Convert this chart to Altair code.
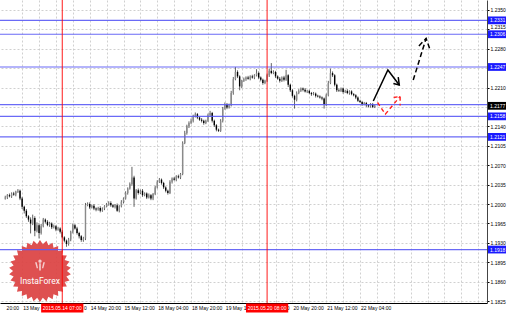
import math
import altair as alt
import pandas as pd

# ---------------- data ----------------
start_index = -8          # first bar = 13 May 04:00 (bar index 0 = 13 May 12:00, H1 bars)
first_open = 1.2010
close = [
    1.2012, 1.2016, 1.2014, 1.2019, 1.2017, 1.2022, 1.2024, 1.2010, 1.1995, 1.1988,
    1.1978, 1.1972, 1.1965, 1.1975, 1.1952, 1.1962, 1.1948, 1.1960, 1.1972, 1.1968,
    1.1962, 1.1965, 1.1958, 1.1960, 1.1954, 1.1956, 1.1950, 1.1940, 1.1934, 1.1928,
    1.1936, 1.1950, 1.1962, 1.1956, 1.1948, 1.1942, 1.1935, 1.1938, 1.1998, 1.2000,
    1.1994, 1.1997, 1.1992, 1.1990, 1.1993, 1.1988, 1.1992, 1.1996, 1.1999, 1.2002,
    1.1998, 1.1995, 1.1998, 1.1988, 1.1996, 1.2004, 1.2010, 1.2020, 1.2028, 1.2036,
    1.2048, 1.2010, 1.2025, 1.2020, 1.2024, 1.2016, 1.2019, 1.2012, 1.2016, 1.2010,
    1.2018, 1.2030, 1.2040, 1.2044, 1.2038, 1.2030, 1.2024, 1.2020, 1.2040, 1.2046,
    1.2044, 1.2050, 1.2048, 1.2054, 1.2110, 1.2128, 1.2140, 1.2146, 1.2150, 1.2158,
    1.2162, 1.2156, 1.2152, 1.2150, 1.2146, 1.2150, 1.2160, 1.2164, 1.2150, 1.2142,
    1.2134, 1.2132, 1.2150, 1.2172, 1.2180, 1.2174, 1.2178, 1.2200, 1.2225, 1.2238,
    1.2230, 1.2212, 1.2222, 1.2225, 1.2228, 1.2226, 1.2230, 1.2228, 1.2232, 1.2236,
    1.2228, 1.2224, 1.2218, 1.2222, 1.2232, 1.2240, 1.2236, 1.2238, 1.2230, 1.2226,
    1.2222, 1.2228, 1.2224, 1.2232, 1.2215, 1.2205, 1.2195, 1.2188, 1.2200, 1.2204,
    1.2208, 1.2206, 1.2203, 1.2204, 1.2200, 1.2198, 1.2199, 1.2195, 1.2194, 1.2192,
    1.2190, 1.2180, 1.2196, 1.2218, 1.2236, 1.2232, 1.2215, 1.2205, 1.2204, 1.2208,
    1.2202, 1.2204, 1.2200, 1.2203, 1.2198, 1.2196, 1.2192, 1.2186, 1.2184, 1.2180,
    1.2182, 1.2178, 1.2176, 1.2180, 1.2175, 1.2177,
]
# upper / lower shadows in pips
wick_hi = [
    3, 2, 3, 2, 3, 2, 3, 2, 3, 2,
    3, 2, 4, 6, 3, 5, 3, 4, 3, 2,
    3, 3, 2, 3, 2, 3, 2, 3, 2, 2,
    3, 2, 3, 2, 3, 2, 2, 3, 4, 3,
    3, 2, 3, 2, 2, 3, 2, 2, 3, 3,
    3, 2, 2, 3, 2, 3, 2, 3, 2, 3,
    19, 3, 2, 3, 2, 3, 2, 2, 3, 2,
    2, 3, 3, 3, 2, 2, 2, 2, 3, 2,
    3, 2, 3, 2, 3, 4, 3, 3, 4, 3,
    3, 2, 2, 3, 2, 2, 3, 4, 2, 2,
    2, 2, 3, 3, 3, 2, 3, 4, 4, 9,
    3, 2, 2, 3, 2, 3, 2, 3, 2, 7,
    3, 2, 2, 2, 3, 4, 14, 3, 2, 2,
    3, 2, 3, 10, 2, 2, 2, 2, 3, 3,
    2, 2, 3, 2, 2, 2, 3, 2, 2, 2,
    2, 2, 3, 4, 8, 3, 2, 2, 3, 2,
    2, 2, 3, 2, 2, 2, 2, 2, 2, 2,
    2, 2, 2, 2, 2, 2,
]
wick_lo = [
    2, 3, 2, 3, 2, 3, 2, 3, 4, 5,
    3, 4, 18, 3, 10, 3, 10, 3, 2, 3,
    2, 3, 3, 2, 3, 2, 3, 2, 3, 5,
    3, 3, 3, 2, 3, 4, 3, 3, 3, 2,
    3, 2, 3, 3, 2, 3, 2, 3, 2, 2,
    3, 2, 3, 2, 3, 2, 3, 2, 3, 2,
    3, 15, 2, 3, 2, 3, 2, 3, 2, 3,
    3, 2, 2, 2, 3, 3, 3, 3, 2, 3,
    2, 3, 2, 3, 2, 2, 3, 3, 2, 3,
    2, 3, 2, 3, 3, 2, 2, 2, 3, 3,
    3, 2, 2, 3, 2, 3, 2, 2, 3, 2,
    3, 7, 3, 2, 3, 2, 3, 2, 3, 2,
    3, 3, 3, 2, 2, 3, 2, 2, 3, 2,
    3, 2, 3, 2, 4, 3, 3, 16, 3, 2,
    2, 3, 2, 3, 2, 3, 2, 3, 2, 2,
    3, 8, 3, 2, 2, 3, 3, 3, 2, 2,
    3, 2, 2, 3, 2, 2, 3, 2, 2, 3,
    2, 3, 2, 2, 2, 2,
]

price_ticks = [1.2350, 1.2315, 1.2280, 1.2245, 1.2210, 1.2175, 1.2140, 1.2105,
               1.2070, 1.2035, 1.2000, 1.1965, 1.1930, 1.1895, 1.1860, 1.1825]
hidden_ticks = [1.2245, 1.2175]   # covered by the level boxes in the picture
raised_ticks = [1.2315]           # sits just above the 1.2306 box
level_prices = [1.2331, 1.2306, 1.2247, 1.2179, 1.2158, 1.2121, 1.1918]
box_prices = [1.2331, 1.2306, 1.2247, 1.2177, 1.2158, 1.2121, 1.1918]
box_labels = ["1.2331", "1.2306", "1.2247", "1.2177", "1.2158", "1.2121", "1.1918"]
box_colors = ["#1a1aff", "#1a1aff", "#1a1aff", "#000000", "#1a1aff", "#1a1aff", "#1a1aff"]

# visible parts of the time labels (the rest is hidden by the red boxes / left edge)
time_idx = [0, 0, 32, 32, 48, 64, 80, 96, 128, 128, 144, 160]
time_labels = ["20:00", "13 May", "0", "14 May 20:00", "15 May 12:00", "18 May 04:00",
               "18 May 20:00", "19 May 1", "0", "20 May 20:00", "21 May 12:00", "22 May 04:00"]
time_align = ["right", "left", "right", "left", "left", "left",
              "left", "left", "right", "left", "left", "left"]
vline_idx = [19, 116]
vline_labels = ["2015.05.14 07:00", "2015.05.20 08:00"]

# hand-drawn forecast arrows (bar index, price)
arrow_black_i = [166.3, 173.2, 178.6]
arrow_black_p = [1.21857, 1.22415, 1.22145]
head_black_i = [175.8, 178.6, 178.1]
head_black_p = [1.22172, 1.22145, 1.22288]
arrow_red_i = [168.3, 172.0, 179.0]
arrow_red_p = [1.21830, 1.21620, 1.21940]
head_red_i = [175.9, 179.0, 179.0]
head_red_p = [1.21920, 1.21940, 1.21775]
arrow_dash_i = [185.2, 191.3]
arrow_dash_p = [1.22235, 1.22986]
head_dash_i = [187.9, 191.3, 193.2]
head_dash_p = [1.22848, 1.22986, 1.22776]

# ---------------- tables ----------------
pip = 0.0001
opens = [first_open] + close[:-1]
idx = list(range(start_index, start_index + len(close)))
candles = pd.DataFrame({
    "i": idx,
    "o": opens,
    "c": close,
    "h": [max(o, c) + w * pip for o, c, w in zip(opens, close, wick_hi)],
    "l": [min(o, c) - w * pip for o, c, w in zip(opens, close, wick_lo)],
})
candles["bull"] = candles["c"] >= candles["o"]

FONT = "Liberation Sans"
xs = alt.Scale(domain=[-8.117, 217.77], nice=False, zero=False)
ys = alt.Scale(domain=[1.18217, 1.23677], nice=False, zero=False)
grid_vals = list(range(0, 217, 8))
hide_expr = " || ".join(f"abs(datum.value - {v}) < 0.00001" for v in hidden_ticks)
raise_expr = " || ".join(f"abs(datum.value - {v}) < 0.00001" for v in raised_ticks)
xaxis = alt.Axis(values=grid_vals, labels=False, ticks=False, grid=True,
                 gridDash=[2, 2], gridColor="#c4c4c4", gridWidth=0.8,
                 domainColor="#000000", domainWidth=1, title=None)
yaxis = alt.Axis(orient="right", values=price_ticks, labelFont=FONT,
                 labelExpr=f"({hide_expr}) ? '' : format(datum.value, '.4f')",
                 labelBaseline={"condition": {"test": raise_expr, "value": "bottom"},
                                "value": "middle"},
                 labelFontSize=5, labelColor="#000000", labelPadding=1, tickSize=2,
                 tickColor="#000000", domainColor="#444444", grid=True,
                 gridDash=[2, 2], gridColor="#c4c4c4", gridWidth=0.8,
                 labelOverlap=False, labelFlush=False, title=None)


def X(f):
    return alt.X(f, type="quantitative", scale=xs, axis=xaxis)


def Y(f):
    return alt.Y(f, type="quantitative", scale=ys, axis=yaxis)


base = alt.Chart(candles)

wicks = base.mark_rule(color="#3a3a3a", strokeWidth=0.8, clip=True).encode(
    x=X("i"), y=Y("l"), y2=alt.Y2("h"))
bodies = base.mark_bar(width=1.4, clip=True).encode(
    x=X("i"), y=Y("o"), y2=alt.Y2("c"),
    color=alt.condition("datum.bull", alt.value("#8a8a8a"), alt.value("#000000")))

levels = alt.Chart(pd.DataFrame({"p": level_prices})).mark_rule(
    color="#5a5af5", strokeWidth=1.2, opacity=0.9).encode(y=Y("p"))

vlines = alt.Chart(pd.DataFrame({"i": vline_idx})).mark_rule(
    color="#ff0000", strokeWidth=0.9).encode(x=X("i"))

# logo
n = 30
pts = []
for k in range(2 * n):
    r = 1.0 if k % 2 == 0 else 0.87
    a = math.pi * k / n
    pts.append(f"{r * math.sin(a):.3f},{-r * math.cos(a):.3f}")
star_path = "M" + " L".join(pts) + " Z"
icon_path = ("M0,-1 A0.3,0.3 0 1,1 0,-0.4 A0.3,0.3 0 1,1 0,-1 Z "
             "M-0.15,-0.3 L0.15,-0.3 L0.15,1 L-0.15,1 Z "
             "M-0.9,-0.5 L-0.6,-0.5 L-0.35,0.6 L-0.6,0.6 Z "
             "M0.9,-0.5 L0.6,-0.5 L0.35,0.6 L0.6,0.6 Z")
one = pd.DataFrame({"a": [0]})
logo = alt.Chart(one).mark_point(shape=star_path, filled=True, color="#dc4343",
                                 size=62 * 62, opacity=0.93, strokeWidth=0).encode(
    x=alt.value(40), y=alt.value(271))
logo_icon = alt.Chart(one).mark_point(shape=icon_path, filled=True, color="#ffffff",
                                      size=11 * 11, strokeWidth=0).encode(
    x=alt.value(40), y=alt.value(265))
logo_text = alt.Chart(pd.DataFrame({"t": ["InstaForex"]})).mark_text(
    font="Roboto", fontSize=8.5, color="#ffffff", align="center", baseline="middle").encode(
    x=alt.value(40), y=alt.value(281), text="t:N")


def poly(ii, pp, seg):
    return pd.DataFrame({"i": ii, "p": pp, "o": list(range(len(ii))), "s": seg})


black_df = pd.concat([poly(arrow_black_i, arrow_black_p, 0), poly(head_black_i, head_black_p, 1)])
red_df = pd.concat([poly(arrow_red_i, arrow_red_p, 0), poly(head_red_i, head_red_p, 1)])
dash_df = pd.concat([poly(arrow_dash_i, arrow_dash_p, 0), poly(head_dash_i, head_dash_p, 1)])

arrow_black = alt.Chart(black_df).mark_line(color="#000000", strokeWidth=1.5).encode(
    x=X("i"), y=Y("p"), detail="s:N", order="o:Q")
arrow_red = alt.Chart(red_df).mark_line(color="#ff2020", strokeWidth=1.4, strokeDash=[4, 3]).encode(
    x=X("i"), y=Y("p"), detail="s:N", order="o:Q")
arrow_dash = alt.Chart(dash_df).mark_line(color="#000000", strokeWidth=1.5, strokeDash=[5, 3]).encode(
    x=X("i"), y=Y("p"), detail="s:N", order="o:Q")

# right-hand price boxes
half_box = 0.0007
boxes_df = pd.DataFrame({"p": box_prices, "t": box_labels, "col": box_colors})
boxes_df["pt"] = boxes_df["p"] + half_box
boxes_df["pb"] = boxes_df["p"] - half_box
box_rects = alt.Chart(boxes_df).mark_rect().encode(
    x=alt.value(488), x2=alt.value(506), y=Y("pt"), y2=alt.Y2("pb"),
    color=alt.Color("col:N", scale=None))
box_text = alt.Chart(boxes_df).mark_text(font=FONT, fontSize=5, color="#ffffff",
                                         align="left", baseline="middle").encode(
    x=alt.value(490), y=Y("p"), text="t:N")

# time labels and red vertical-line boxes
time_df = pd.DataFrame({"i": time_idx, "t": time_labels, "al": time_align})
time_left = alt.Chart(time_df[time_df["al"] == "left"]).mark_text(
    font=FONT, fontSize=5, color="#000000", align="left", baseline="middle", dx=1).encode(
    x=X("i"), y=alt.value(308), text="t:N")
time_right = alt.Chart(time_df[time_df["al"] == "right"]).mark_text(
    font=FONT, fontSize=5, color="#000000", align="right", baseline="middle", dx=-3).encode(
    x=X("i"), y=alt.value(308), text="t:N")
vbox_df = pd.DataFrame({"i": vline_idx, "t": vline_labels})
vbox_df["i1"] = vbox_df["i"] - 10
vbox_df["i2"] = vbox_df["i"] + 10
vbox_rects = alt.Chart(vbox_df).mark_rect(color="#ff0000").encode(
    x=X("i1"), x2=alt.X2("i2"), y=alt.value(303.5), y2=alt.value(312.5))
vbox_text = alt.Chart(vbox_df).mark_text(font=FONT, fontSize=5, color="#ffffff",
                                         align="center", baseline="middle").encode(
    x=X("i"), y=alt.value(308), text="t:N")

chart = alt.layer(
    wicks, bodies, logo, logo_icon, logo_text, levels, vlines,
    arrow_black, arrow_red, arrow_dash,
    box_rects, box_text, time_left, time_right, vbox_rects, vbox_text,
).properties(
    width=487, height=303,
    padding={"left": 0, "top": 0, "right": 23, "bottom": 10},
    autosize=alt.AutoSizeParams(type="none"),
    background="#ffffff",
).configure_view(stroke=None)

chart.save("out.html", embed_options={"renderer": "svg", "actions": False})
